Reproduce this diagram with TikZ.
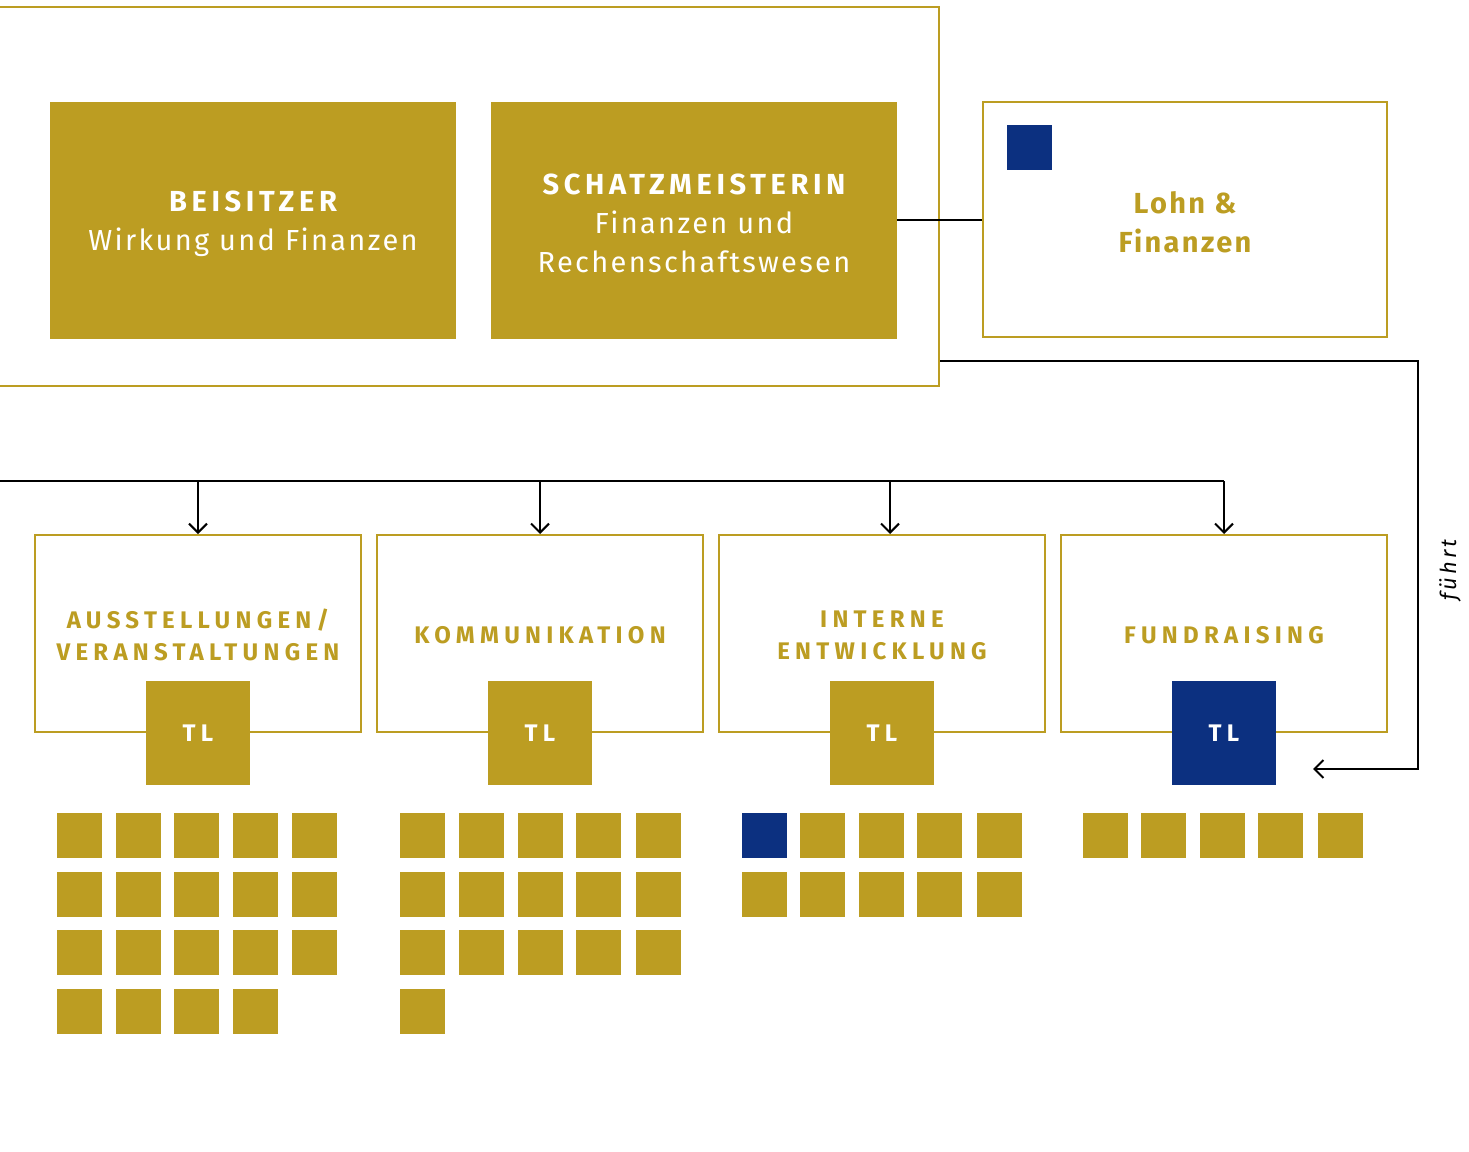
\documentclass[tikz,border=0pt]{standalone}
\usepackage{fontspec}
\setmainfont{Fira Sans}
\usetikzlibrary{arrows.meta}
\definecolor{gold}{HTML}{BC9D22}
\definecolor{navy}{HTML}{0C3080}
\newfontfamily\spacedfont[LetterSpace=8]{Fira Sans}
\newfontfamily\titlefont[LetterSpace=16]{Fira Sans}
\newfontfamily\widefont[LetterSpace=22]{Fira Sans}
\newfontfamily\italfont[LetterSpace=14]{Fira Sans Italic}
\begin{document}
\begin{tikzpicture}[x=1pt,y=-1pt,
  conn/.style={draw=black,line width=2pt},
  arr/.style={conn,-{Straight Barb[length=9pt,width=18pt,line width=2pt]}},
  frame/.style={draw=gold,line width=2pt,inner sep=0pt,fill=white},
  fillbox/.style={fill=gold,draw=none,inner sep=0pt,minimum width=406pt,minimum height=237pt},
  boxtext/.style={text=white,align=center,inner sep=0pt,
    font=\spacedfont\fontsize{29}{39}\selectfont},
  teambox/.style={frame,minimum width=326pt,minimum height=197pt},
  teamlabel/.style={text=gold,align=center,font=\widefont\bfseries\fontsize{24}{32}\selectfont,inner sep=0pt},
  tlbox/.style={fill=gold,draw=none,minimum size=104pt,inner sep=0pt,text=white,
    text height=17pt, text depth=-1pt,
    font=\widefont\bfseries\fontsize{24}{26}\selectfont},
  member/.style={fill=gold,draw=none,minimum size=45pt,inner sep=0pt},
  bluemember/.style={member,fill=navy},
]
\useasboundingbox (0,0) rectangle (1469,1151);

% board frame
\node[frame,fill=none,minimum width=959pt,minimum height=379pt] (board) at (459.5,196.5) {};
\node[fillbox] (beis) at (253,220.5) {};
\node[boxtext] (beistext) at (253,223.5)
  {{\titlefont\bfseries BEISITZER}\\Wirkung und Finanzen};
\node[fillbox] (schatz) at (694,220.5) {};
\node[boxtext] (schatztext) at (694,223)
  {{\titlefont\bfseries SCHATZMEISTERIN}\\Finanzen und\\Rechenschaftswesen};

% Lohn & Finanzen
\node[frame,minimum width=404pt,minimum height=235pt] (lohn) at (1185,219.5) {};
\node[text=gold,align=center,inner sep=0pt,
  font=\spacedfont\bfseries\fontsize{29}{39}\selectfont] (lohntext) at (1185,222) {Lohn \&\\Finanzen};
\node[bluemember] (lohnsq) at (1029.5,147.5) {};
\draw[conn] (schatz.east |- lohn.west) -- (lohn.west);

% teams
\node[teambox] (t1) at (198,633.5) {};
\node[teambox] (t2) at (540,633.5) {};
\node[teambox] (t3) at (882,633.5) {};
\node[teambox] (t4) at (1224,633.5) {};
\node[teamlabel] (l1) at (198,635) {AUSSTELLUNGEN/\\VERANSTALTUNGEN};
\node[teamlabel] (l2) at (540,635) {KOMMUNIKATION};
\node[teamlabel] (l3) at (882,635) {INTERNE\\ENTWICKLUNG};
\node[teamlabel] (l4) at (1224,635) {FUNDRAISING};
\node[tlbox] (tl1) at (198,732.5) {TL};
\node[tlbox] (tl2) at (540,732.5) {TL};
\node[tlbox] (tl3) at (882,732.5) {TL};
\node[tlbox,fill=navy] (tl4) at (1224,732.5) {TL};

% distribution line
\coordinate (dl) at (-5,481);
\coordinate (a1) at (198,481);
\coordinate (a2) at (540,481);
\coordinate (a3) at (890,481);
\coordinate (a4) at (1224,481);
\draw[conn] (dl) -- (a4);
\draw[arr] (a1) -- (a1 |- t1.north);
\draw[arr] (a2) -- (a2 |- t2.north);
\draw[arr] (a3) -- (a3 |- t3.north);
\draw[arr] (a4) -- (a4 |- t4.north);

% fuehrt connector
\coordinate (f1) at (1418,361);
\coordinate (f2) at (1418,769);
\coordinate (fend) at (1313,769);
\draw[arr] (board.east |- f1) -- (f1) -- (f2) -- (fend);
\node[rotate=90,font=\italfont\fontsize{22}{24}\selectfont,inner sep=0pt] (fuehrt) at (1450,570) {führt};

% members
\foreach \x [count=\i] in {79.5,138.5,196.5,255.5,314.5}{
  \foreach \y [count=\j] in {835.5,894.5,952.5}{
    \node[member] (m1-\i-\j) at (\x,\y) {};
  }
}
\foreach \x [count=\i] in {79.5,138.5,196.5,255.5}{
  \node[member] (m1-\i-4) at (\x,1011.5) {};
}
\foreach \x [count=\i] in {422.5,481.5,540.5,598.5,658.5}{
  \foreach \y [count=\j] in {835.5,894.5,952.5}{
    \node[member] (m2-\i-\j) at (\x,\y) {};
  }
}
\node[member] (m2-1-4) at (422.5,1011.5) {};
\foreach \x [count=\i] in {764.5,822.5,881.5,939.5,999.5}{
  \foreach \y [count=\j] in {835.5,894.5}{
    \node[member] (m3-\i-\j) at (\x,\y) {};
  }
}
\node[bluemember] (m3-blue) at (764.5,835.5) {};
\foreach \x [count=\i] in {1105.5,1163.5,1222.5,1280.5,1340.5}{
  \node[member] (m4-\i) at (\x,835.5) {};
}
\end{tikzpicture}
\end{document}
